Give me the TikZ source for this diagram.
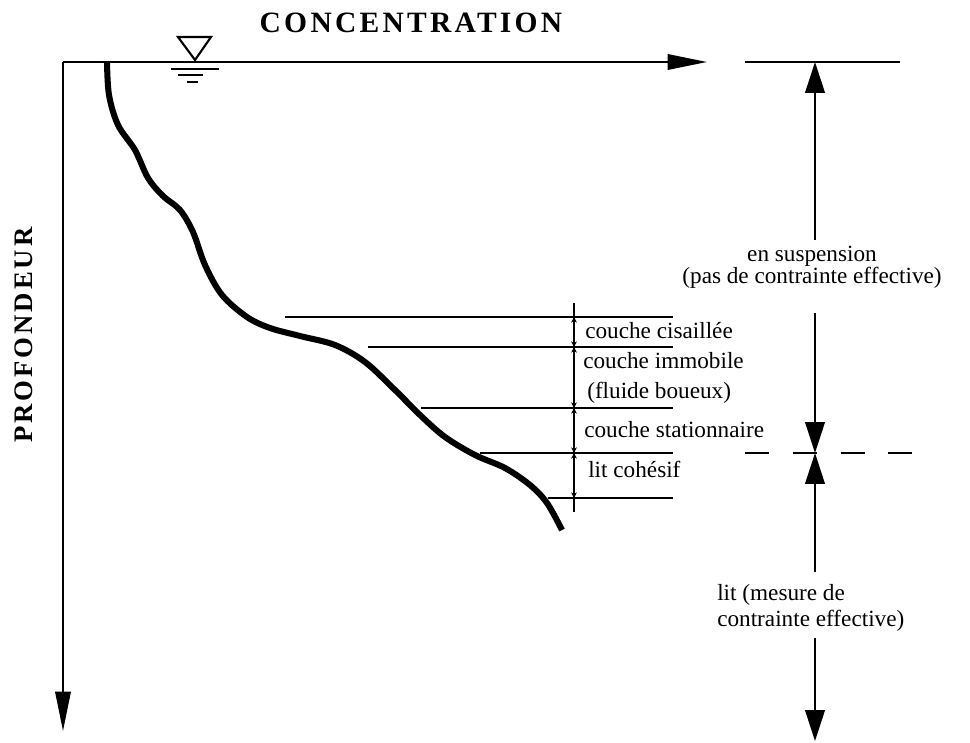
\documentclass[tikz,border=0pt]{standalone}
\usepackage{fontspec}
\setmainfont{Liberation Serif}
\newfontfamily\titlefont[LetterSpace=11]{Liberation Serif}
\usetikzlibrary{arrows.meta}

\tikzset{
  axis/.style={line width=1.4pt,-{Triangle[length=28pt,width=11pt]}},
  dimarrow/.style={line width=1.3pt,-{Triangle[length=22pt,width=14pt]}},
  layer/.style={line width=1.4pt},
  bracket/.style={line width=1pt,{Stealth[length=4pt,width=4pt]}-{Stealth[length=4pt,width=4pt]}},
  lbl/.style={inner sep=0pt,anchor=base west,font=\fontsize{16.5}{18}\selectfont},
}

\begin{document}
\begin{tikzpicture}[x=0.025cm,y=-0.025cm,line cap=butt]
    \useasboundingbox (0,0) rectangle (970,742);
    % axes
    \coordinate (O) at (63,62);
    \coordinate (xend) at (707,62);
    \coordinate (yend) at (63,731);
    \draw[axis] (O) -- (xend);
    \draw[axis] (O) -- (yend);
    \node[inner sep=0pt,anchor=base](conc) at (411,33) {\titlefont\bfseries\fontsize{21}{24}\selectfont CONCENTRATION};
    \node[inner sep=0pt,rotate=90](prof) at (24,335) {\titlefont\bfseries\fontsize{19}{22}\selectfont PROFONDEUR};

    % water level
    \draw[line width=1.5pt,line join=miter] (178,37) -- (211,37) -- (195,60) -- cycle;
    \draw[line width=1.3pt] (171,69) -- (219,69);
    \draw[line width=1.3pt] (178,75) -- (203,75);
    \draw[line width=1.3pt] (187,82) -- (198,82);

    % concentration profile
    \draw[line width=4.3pt] plot[smooth,tension=0.55] coordinates {(107,62) (109,95) (118,125) (135,150) (148,178) (163,196) (180,210) (193,232) (205,265) (222,295) (247,317) (270,328) (300,336) (335,345) (365,362) (395,390) (420,415) (445,437) (475,455) (505,468) (530,485) (547,503) (562,530)};

    % layers
    \coordinate (L1) at (574,317);
    \coordinate (L2) at (574,347);
    \coordinate (L3) at (574,408);
    \coordinate (L4) at (574,453);
    \coordinate (L5) at (574,498);
    \draw[layer] (285,317) -- (673,317);
    \draw[layer] (368,347) -- (673,347);
    \draw[layer] (421,408) -- (673,408);
    \draw[layer] (480,453) -- (673,453);
    \draw[layer] (548,498) -- (673,498);
    \draw[line width=1pt] (574,303) -- (574,512);
    \foreach \a/\b in {L1/L2,L2/L3,L3/L4,L4/L5}
        \draw[bracket] (\a) -- (\b);
    \node[lbl](cis) at (585,338) {couche cisaillée};
    \node[lbl](imm) at (583,368) {couche immobile};
    \node[lbl](flu) at (587,398) {(fluide boueux)};
    \node[lbl](sta) at (584,437) {couche stationnaire};
    \node[lbl](coh) at (588,477) {lit cohésif};

    % suspension / lit
    \coordinate (top) at (815,62);
    \coordinate (mid) at (815,453);
    \coordinate (bot) at (815,741);
    \coordinate (s1) at (815,240);
    \coordinate (s2) at (815,313);
    \coordinate (l1) at (815,572);
    \coordinate (l2) at (815,638);
    \draw[layer] (745,62) -- (900,62);
    \draw[layer,dash pattern=on 17pt off 17pt] (745,453) -- (914,453);
    \draw[dimarrow] (s1) -- (top);
    \draw[dimarrow] (s2) -- (mid);
    \draw[dimarrow] (l1) -- (mid);
    \draw[dimarrow] (l2) -- (bot);
    \node[inner sep=0pt,anchor=base,align=center,font=\fontsize{16.5}{15.6}\selectfont](susp) at (812,283) {en suspension\\(pas de contrainte effective)};
    \node[inner sep=0pt,anchor=base west,align=left,font=\fontsize{16.5}{18.4}\selectfont](lit) at (717,626) {lit (mesure de\\contrainte effective)};
\end{tikzpicture}
\end{document}
